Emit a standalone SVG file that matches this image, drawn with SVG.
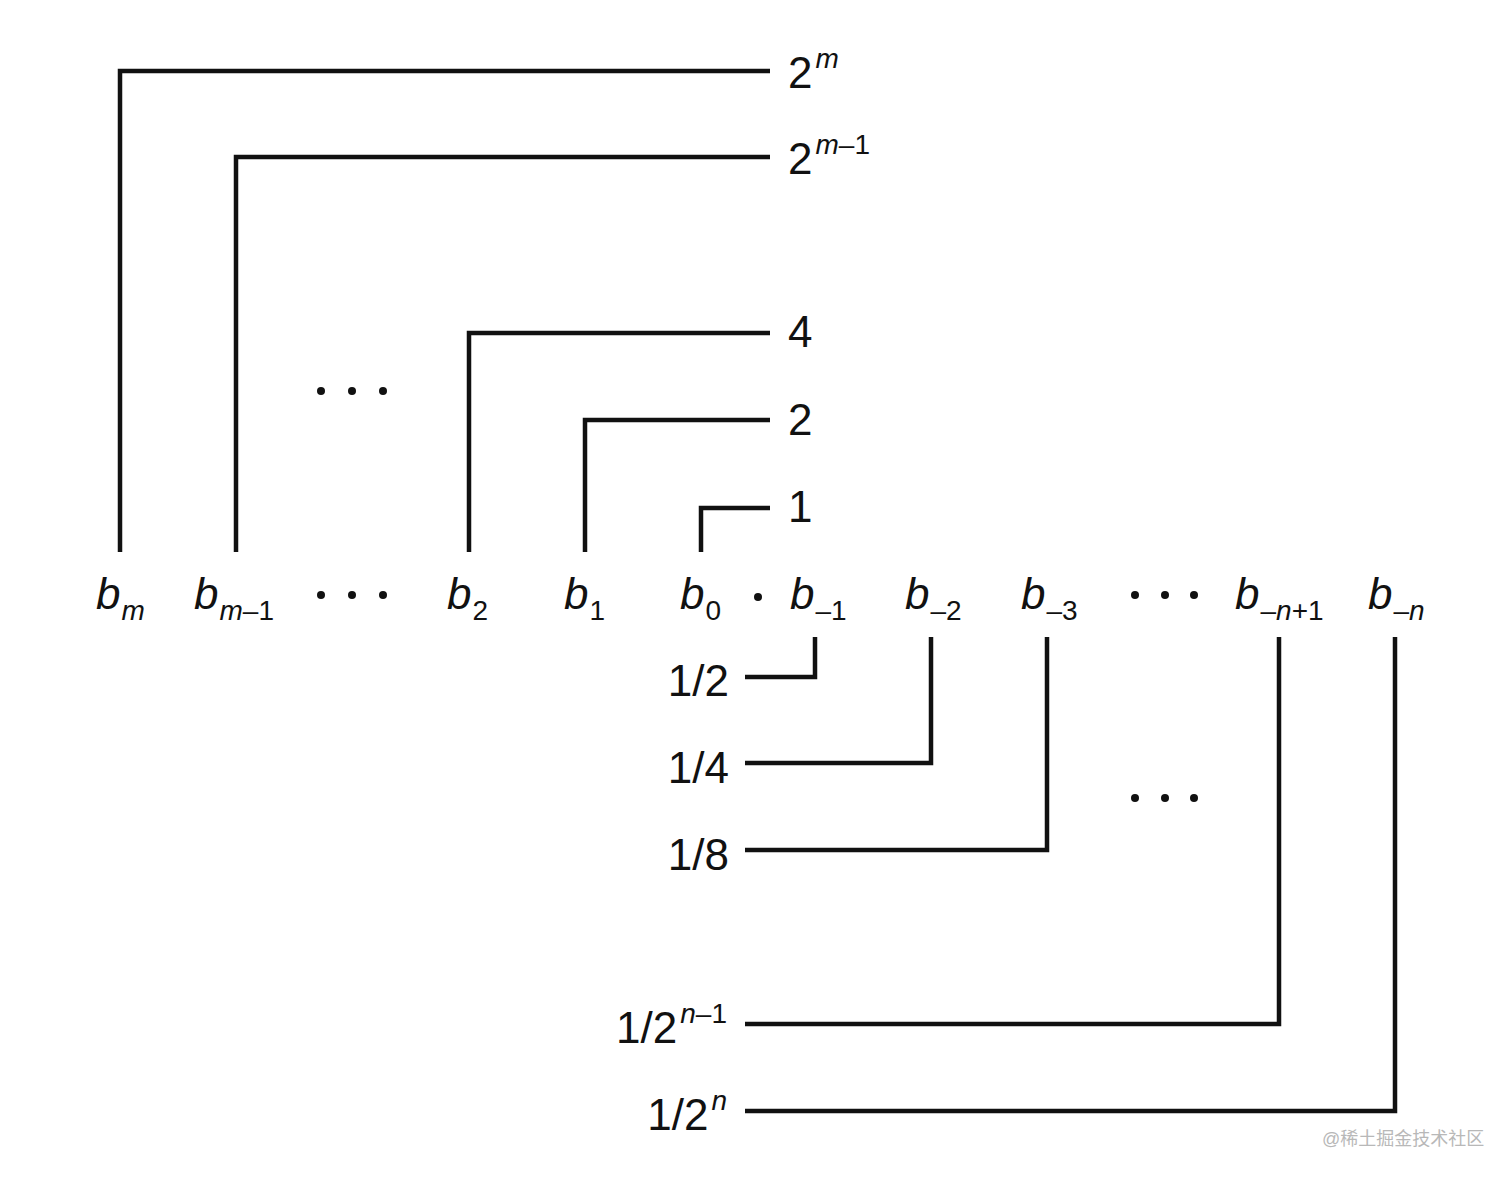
<svg xmlns="http://www.w3.org/2000/svg" width="1512" height="1178" viewBox="0 0 1512 1178">
<style>
text{font-family:"Liberation Sans",Arial,sans-serif;fill:#111;}
.lbl{font-size:44px;}
.b{font-size:44px;}
.i{font-style:italic;}
.s{font-size:28px;}
.conn path{fill:none;stroke:#111;stroke-width:4.5;}
.dot{fill:#111;}
</style>
<rect width="1512" height="1178" fill="#fff"/>
<g class="conn" id="connectors">
<path d="M120,552 V71 H770"/>
<path d="M236,552 V157 H770"/>
<path d="M469,552 V333 H770"/>
<path d="M585,552 V420 H770"/>
<path d="M701,552 V508 H770"/>
<path d="M815,637 V677 H745"/>
<path d="M931,637 V763 H745"/>
<path d="M1047,637 V850 H745"/>
<path d="M1279,637 V1024 H745"/>
<path d="M1395,637 V1111 H745"/>
</g>
<g id="weights-top">
<text class="lbl" x="788" y="88">2<tspan class="s i" dx="3" dy="-20">m</tspan></text>
<text class="lbl" x="788" y="174">2<tspan class="s" dx="3" dy="-20"><tspan class="i">m</tspan>–1</tspan></text>
<text class="lbl" x="788" y="347">4</text>
<text class="lbl" x="788" y="435">2</text>
<text class="lbl" x="788" y="522">1</text>
</g>
<g id="bits">
<text class="b" x="96" y="609"><tspan class="i">b</tspan><tspan class="s i" dx="1" dy="11">m</tspan></text>
<text class="b" x="194" y="609"><tspan class="i">b</tspan><tspan class="s" dx="1" dy="11"><tspan class="i">m</tspan>–1</tspan></text>
<text class="b" x="447" y="609"><tspan class="i">b</tspan><tspan class="s" dx="1" dy="11">2</tspan></text>
<text class="b" x="564" y="609"><tspan class="i">b</tspan><tspan class="s" dx="1" dy="11">1</tspan></text>
<text class="b" x="680" y="609"><tspan class="i">b</tspan><tspan class="s" dx="1" dy="11">0</tspan></text>
<circle class="dot" cx="758" cy="597" r="4"/>
<text class="b" x="790" y="609"><tspan class="i">b</tspan><tspan class="s" dx="1" dy="11">–1</tspan></text>
<text class="b" x="905" y="609"><tspan class="i">b</tspan><tspan class="s" dx="1" dy="11">–2</tspan></text>
<text class="b" x="1021" y="609"><tspan class="i">b</tspan><tspan class="s" dx="1" dy="11">–3</tspan></text>
<text class="b" x="1235" y="609"><tspan class="i">b</tspan><tspan class="s" dx="1" dy="11">–<tspan class="i">n</tspan>+1</tspan></text>
<text class="b" x="1368" y="609"><tspan class="i">b</tspan><tspan class="s" dx="1" dy="11">–<tspan class="i">n</tspan></tspan></text>
</g>
<g id="ellipses">
<circle class="dot" cx="321" cy="391" r="4"/><circle class="dot" cx="352" cy="391" r="4"/><circle class="dot" cx="383" cy="391" r="4"/>
<circle class="dot" cx="321" cy="595" r="4"/><circle class="dot" cx="352" cy="595" r="4"/><circle class="dot" cx="383" cy="595" r="4"/>
<circle class="dot" cx="1135" cy="595" r="4"/><circle class="dot" cx="1165" cy="595" r="4"/><circle class="dot" cx="1194" cy="595" r="4"/>
<circle class="dot" cx="1135" cy="798" r="4"/><circle class="dot" cx="1165" cy="798" r="4"/><circle class="dot" cx="1194" cy="798" r="4"/>
</g>
<g id="weights-bottom">
<text class="lbl" x="729" y="696" text-anchor="end">1/2</text>
<text class="lbl" x="729" y="783" text-anchor="end">1/4</text>
<text class="lbl" x="729" y="870" text-anchor="end">1/8</text>
<text class="lbl" x="727" y="1043" text-anchor="end">1/2<tspan class="s" dx="3" dy="-20"><tspan class="i">n</tspan>–1</tspan></text>
<text class="lbl" x="727" y="1130" text-anchor="end">1/2<tspan class="s i" dx="3" dy="-20">n</tspan></text>
</g>
<text x="1322" y="1145" font-size="18" style="fill:#b8b8b8;font-family:'Liberation Sans','Noto Sans CJK SC',sans-serif">@稀土掘金技术社区</text>
</svg>
